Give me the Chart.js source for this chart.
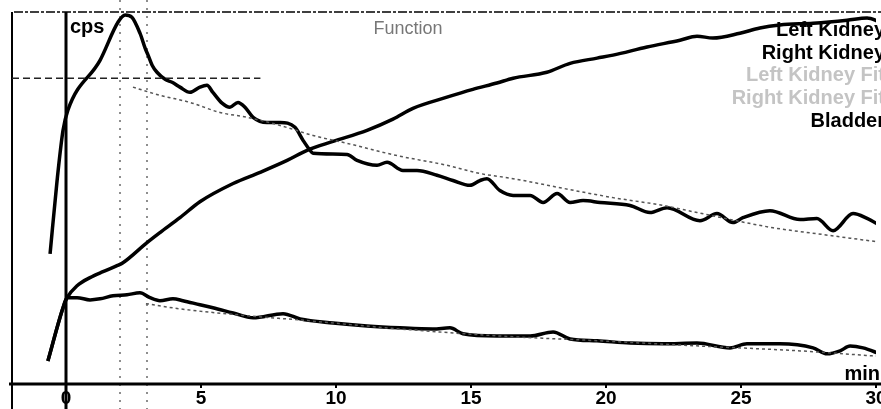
<!DOCTYPE html>
<html>
<head>
<meta charset="utf-8">
<script src="https://cdn.jsdelivr.net/npm/chart.js@4.4.0/dist/chart.umd.min.js"></script>
<style>
  body { margin: 0; background: #fff; }
  #wrap { width: 881px; height: 409px; position: relative; }
</style>
</head>
<body>
<div id="wrap"><canvas id="renogram"></canvas></div>
<script>
// Renogramme : temps en minutes, activité en cps (échelle relative 0-1000)
const xTicks = [0, 5, 10, 15, 20, 25, 30];
const markerTimes = [2, 3];

const leftTime = [-0.59, -0.33, -0.11, 0.07, 1.26, 1.93, 2.19, 2.44, 2.74, 2.93, 3.04, 3.19, 3.37, 3.67, 3.93, 4.22, 4.59, 4.96, 5.22, 5.44, 5.78, 6.07, 6.37, 6.63, 6.93, 7.44, 7.93, 8.48, 8.78, 9.04, 9.15, 10.41, 10.78, 11.52, 11.89, 12.48, 13.0, 13.74, 14.33, 14.96, 15.33, 15.59, 16.07, 16.56, 17.19, 17.67, 18.19, 18.67, 19.15, 19.78, 20.89, 21.63, 22.26, 23.48, 24.11, 24.7, 25.07, 26.07, 27.19, 27.81, 28.41, 29.15, 29.67, 30.15];
const leftCps = [350, 547, 682, 736, 870, 973, 992, 986, 943, 903, 884, 857, 838, 819, 811, 798, 784, 798, 803, 784, 755, 744, 757, 744, 717, 703, 703, 690, 655, 628, 620, 617, 601, 588, 596, 574, 574, 561, 547, 534, 547, 552, 520, 507, 507, 488, 512, 488, 493, 488, 480, 461, 474, 439, 458, 434, 447, 466, 442, 445, 412, 458, 445, 426];

const leftFitTime = [2.48, 3.48, 4.59, 5.70, 6.70, 7.93, 9.15, 10.41, 12.26, 14.11, 15.33, 16.56, 18.41, 20.26, 22.11, 23.37, 26.19, 27.81, 29.78, 30];
const leftFitCps = [798, 776, 757, 730, 717, 695, 668, 647, 614, 588, 566, 552, 526, 501, 480, 461, 420, 404, 385, 383];

const rightTime = [-0.67, -0.11, 0.04, 0.41, 0.89, 1.26, 1.74, 2.26, 2.74, 3.11, 3.48, 3.96, 4.33, 4.96, 5.44, 6.19, 6.93, 8.04, 8.67, 9.89, 11.15, 12.37, 13.59, 14.22, 14.70, 15.96, 17.19, 18.04, 18.67, 19.67, 20.89, 22.11, 23.37, 24.59, 25.22, 26.44, 27.67, 28.19, 28.67, 29.04, 29.52, 30.15];
const rightCps = [62, 205, 232, 232, 226, 229, 237, 240, 245, 232, 224, 229, 224, 213, 205, 191, 178, 189, 175, 164, 156, 151, 148, 151, 135, 129, 129, 140, 121, 116, 110, 108, 110, 97, 108, 108, 97, 81, 89, 102, 97, 81];

const rightFitTime = [2.96, 4.22, 6.81, 8.67, 12.37, 16.07, 19.78, 23.48, 27.19, 30];
const rightFitCps = [216, 202, 183, 172, 148, 129, 116, 102, 89, 75];

const bladderTime = [-0.67, -0.11, 0.04, 0.41, 0.89, 1.37, 1.89, 2.11, 3.0, 3.48, 4.22, 4.96, 6.19, 7.19, 8.19, 8.93, 9.89, 11.15, 12.11, 12.85, 14.11, 15.07, 15.96, 16.56, 17.81, 18.67, 19.67, 20.26, 21.52, 22.74, 23.37, 23.96, 24.96, 25.7, 26.44, 27.67, 28.93, 29.67, 30.15];
const bladderCps = [62, 205, 232, 264, 286, 302, 318, 326, 380, 407, 447, 490, 539, 569, 601, 628, 652, 682, 712, 741, 771, 792, 809, 822, 838, 862, 876, 884, 906, 924, 935, 930, 943, 957, 965, 970, 978, 984, 973];

const refTime = [-2, 7.2];
const refCps = [822, 822];

const legendLabels = ['Left Kidney', 'Right Kidney', 'Left Kidney Fit', 'Right Kidney Fit', 'Bladder'];
const legendColors = ['#000', '#000', '#c4c4c4', '#c4c4c4', '#000'];

const toPoints = (t, v) => t.map((x, i) => ({ x: x, y: v[i] }));

// Axes, repères et bordures dessinés avec les échelles
const framePlugin = {
    id: 'frame',
    beforeDatasetsDraw(chart) {
        const { ctx, chartArea, scales: { x, y } } = chart;
        const H = chart.height, W = chart.width;
        ctx.save();
        ctx.strokeStyle = '#000';
        // bord supérieur pointillé
        ctx.lineWidth = 1.5;
        ctx.setLineDash([9, 2, 3, 2]);
        ctx.beginPath();
        ctx.moveTo(14, chartArea.top);
        ctx.lineTo(W, chartArea.top);
        ctx.stroke();
        // repères verticaux
        ctx.strokeStyle = '#444';
        ctx.lineWidth = 1.2;
        ctx.setLineDash([2, 6]);
        markerTimes.forEach(t => {
            const px = x.getPixelForValue(t);
            ctx.beginPath();
            ctx.moveTo(px, 0);
            ctx.lineTo(px, H);
            ctx.stroke();
        });
        ctx.setLineDash([]);
        ctx.strokeStyle = '#000';
        // bord gauche
        ctx.lineWidth = 2;
        const pl = x.getPixelForValue(x.min);
        ctx.beginPath();
        ctx.moveTo(pl, chartArea.top);
        ctx.lineTo(pl, H);
        ctx.stroke();
        // axe des temps t = 0
        ctx.lineWidth = 3;
        const p0 = x.getPixelForValue(0);
        ctx.beginPath();
        ctx.moveTo(p0, chartArea.top);
        ctx.lineTo(p0, H);
        ctx.stroke();
        // axe horizontal
        const py = y.getPixelForValue(0);
        ctx.beginPath();
        ctx.moveTo(9, py);
        ctx.lineTo(W, py);
        ctx.stroke();
        ctx.restore();
    },
    afterDatasetsDraw(chart) {
        const { ctx, chartArea } = chart;
        ctx.save();
        ctx.textBaseline = 'alphabetic';
        ctx.font = 'bold 20px "Liberation Sans", Arial, sans-serif';
        ctx.fillStyle = '#000';
        ctx.textAlign = 'left';
        ctx.fillText('cps', 70, 33);
        ctx.textAlign = 'right';
        ctx.fillText('min', 880, chartArea.bottom - 4);
        legendLabels.forEach((txt, i) => {
            ctx.fillStyle = legendColors[i];
            ctx.fillText(txt, 885, 36 + i * 22.7);
        });
        ctx.font = '18px "Liberation Sans", Arial, sans-serif';
        ctx.fillStyle = '#777';
        ctx.textAlign = 'center';
        ctx.fillText('Function', 408, 34);
        ctx.restore();
    }
};

const solid = { borderColor: '#000', borderWidth: 3.5, pointRadius: 0, cubicInterpolationMode: 'monotone', fill: false };
const dotted = { borderColor: '#555', borderWidth: 1.5, borderDash: [3, 3], pointRadius: 0, cubicInterpolationMode: 'monotone', fill: false };

new Chart(document.getElementById('renogram'), {
    type: 'line',
    data: {
        datasets: [
            { label: 'Left Kidney Fit', data: toPoints(leftFitTime, leftFitCps), ...dotted },
            { label: 'Right Kidney Fit', data: toPoints(rightFitTime, rightFitCps), ...dotted },
            { label: 'Ref', data: toPoints(refTime, refCps), ...dotted, borderColor: '#222', borderDash: [7, 4] },
            { label: 'Left Kidney', data: toPoints(leftTime, leftCps), ...solid },
            { label: 'Right Kidney', data: toPoints(rightTime, rightCps), ...solid },
            { label: 'Bladder', data: toPoints(bladderTime, bladderCps), ...solid }
        ]
    },
    options: {
        responsive: true,
        maintainAspectRatio: false,
        animation: false,
        layout: { padding: { left: 12, right: 5, top: 12, bottom: 0 } },
        plugins: {
            legend: { display: false },
            title: { display: false },
            tooltip: { enabled: false }
        },
        scales: {
            x: {
                type: 'linear',
                min: -2,
                max: 30,
                afterBuildTicks: (scale) => { scale.ticks = xTicks.map(v => ({ value: v })); },
                afterFit: (scale) => { scale.paddingLeft = 0; scale.paddingRight = 0; },
                grid: { display: true, drawOnChartArea: false, drawTicks: true, tickLength: 4, color: '#000', lineWidth: 2 },
                border: { display: false },
                ticks: {
                    color: '#000',
                    padding: 1,
                    maxRotation: 0,
                    font: { family: '"Liberation Sans", Arial, sans-serif', size: 19, weight: 'bold', lineHeight: 1 }
                }
            },
            y: {
                display: false,
                min: 0,
                max: 1000
            }
        }
    },
    plugins: [framePlugin]
});
</script>
</body>
</html>
